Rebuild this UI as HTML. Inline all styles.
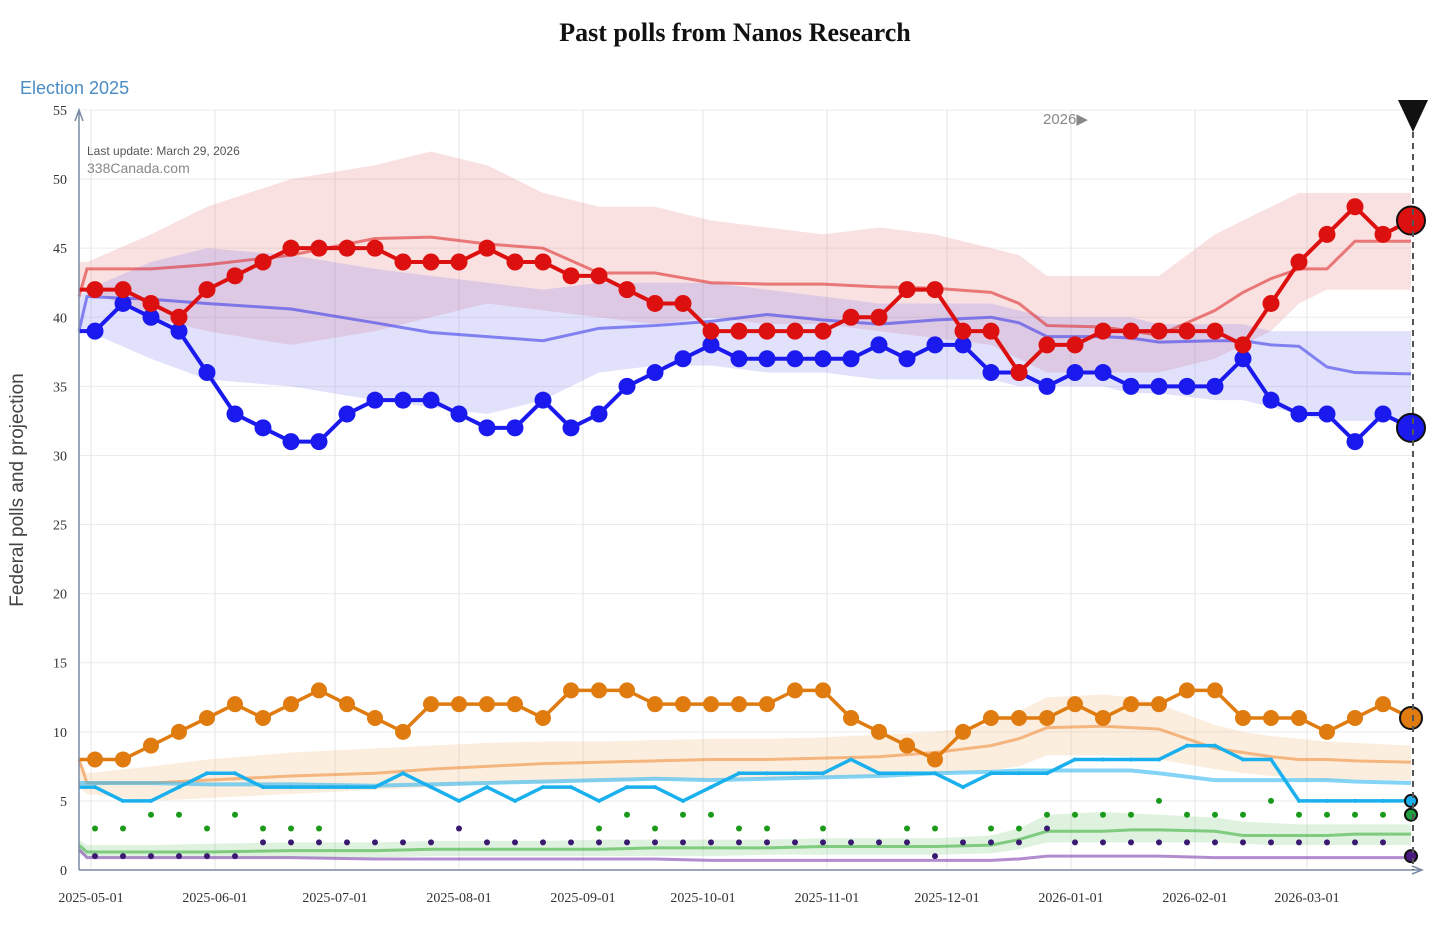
<!DOCTYPE html>
<html><head><meta charset="utf-8">
<style>
html,body{margin:0;padding:0;background:#fff;}
svg{display:block;font-family:"Liberation Sans",sans-serif;}
</style></head>
<body>
<svg id="chart" width="1456" height="926" viewBox="0 0 1456 926">
<text x="735" y="41" text-anchor="middle" font-family="Liberation Serif, serif" font-weight="bold" font-size="26" fill="#111">Past polls from Nanos Research</text>
<text x="20" y="94" font-size="18" fill="#4a8cc4">Election 2025</text>
<text transform="translate(23,490) rotate(-90)" text-anchor="middle" font-size="19" fill="#444">Federal polls and projection</text>
<g id="grid"></g>
<g id="bands"></g>
<g id="projs"></g>
<g id="dots"></g>
<g id="series"></g>
<g id="axes"></g>
<text x="87" y="155" font-size="12" fill="#555">Last update: March 29, 2026</text>
<text x="87" y="173" font-size="14" fill="#888">338Canada.com</text>
<text x="1043" y="124" font-size="15" fill="#888">2026▶</text>
</svg>
<script>
const NS="http://www.w3.org/2000/svg";
const tickLabels=["2025-05-01","2025-06-01","2025-07-01","2025-08-01","2025-09-01","2025-10-01","2025-11-01","2025-12-01","2026-01-01","2026-02-01","2026-03-01"];
const tickDays=[0,31,61,92,123,153,184,214,245,276,304];
const yTicks=[0,5,10,15,20,25,30,35,40,45,50,55];
const pollStart=1, pollStep=7;
const red=[42,42,41,40,42,43,44,45,45,45,45,44,44,44,45,44,44,43,43,42,41,41,39,39,39,39,39,40,40,42,42,39,39,36,38,38,39,39,39,39,39,38,41,44,46,48,46];
const blue=[39,41,40,39,36,33,32,31,31,33,34,34,34,33,32,32,34,32,33,35,36,37,38,37,37,37,37,37,38,37,38,38,36,36,35,36,36,35,35,35,35,37,34,33,33,31,33];
const orange=[8,8,9,10,11,12,11,12,13,12,11,10,12,12,12,12,11,13,13,13,12,12,12,12,12,13,13,11,10,9,8,10,11,11,11,12,11,12,12,13,13,11,11,11,10,11,12];
const cyan=[6,5,5,6,7,7,6,6,6,6,6,7,6,5,6,5,6,6,5,6,6,5,6,7,7,7,7,8,7,7,7,6,7,7,7,8,8,8,8,9,9,8,8,5,5,5,5];
const green=[3,3,4,4,3,4,3,3,3,null,null,null,null,null,null,null,null,null,3,4,3,4,4,3,3,null,3,null,null,3,3,null,3,3,4,4,4,4,5,4,4,4,5,4,4,4,4];
const purple=[1,1,1,1,1,1,2,2,2,2,2,2,2,3,2,2,2,2,2,2,2,2,2,2,2,2,2,2,2,2,1,2,2,2,3,2,2,2,2,2,2,2,2,2,2,2,2];
const startDay=-3, endDay=330;
const redStart=42, blueStart=39, orangeStart=8, cyanStart=6;
const finalRed=47, finalBlue=32, finalOrange=11, finalCyan=5, finalGreen=4, finalPurple=1;
const projDays=[-3,-1,15,29,50,71,85,99,113,127,141,155,169,183,197,211,225,232,239,253,260,267,281,288,295,302,309,316,330];
const redProj=[41.5,43.5,43.5,43.8,44.5,45.7,45.8,45.3,45,43.2,43.2,42.5,42.4,42.4,42.2,42.1,41.8,41,39.4,39.3,39.0,38.7,40.5,41.8,42.8,43.5,43.5,45.5,45.5];
const redHi=[44,44,46,48,50,51,52,51,49,48,48,47,46.5,46,46.5,46,45,44.5,43,43,43,43,46,47,48,49,49,49,49];
const redLo=[42,42,40,39,38,39,40,41,40.5,40,39.5,40,39.5,39.5,39,38.5,38,37,36,36,36,36,37,38,39,41,42,42,42];
const blueProj=[39,41.5,41.3,41,40.6,39.6,38.9,38.6,38.3,39.2,39.4,39.7,40.2,39.8,39.5,39.8,40,39.6,38.6,38.6,38.5,38.2,38.3,38.3,38,37.9,36.4,36,35.9];
const blueHi=[41.5,42,44,45,44.5,43.5,43,42.5,42,42.5,42.5,42.5,42,41.5,41,41,41,40.5,40,40,40,39.5,39.5,39.5,39,39,39,39,39];
const blueLo=[39,39,37,35.5,35,34,33.5,33,34,36,36.5,36.5,36,36,35.5,35.5,35.5,35,35,35,34.5,34.5,34,34,33.5,33,32.5,32.5,32.5];
const orangeProj=[8,6.3,6.3,6.5,6.8,7,7.3,7.5,7.7,7.8,7.9,8,8,8.1,8.2,8.5,9,9.5,10.3,10.4,10.3,10.2,8.8,8.5,8.2,8,8,7.9,7.8];
const orangeHi=[8,7,7.5,8,8.5,8.8,9,9.2,9.3,9.3,9.4,9.5,9.5,9.6,9.8,10,10.5,11.5,12.5,12.7,12.5,12,10.5,10,9.7,9.5,9.3,9.2,9];
const orangeLo=[6,5.5,5,5.2,5.5,5.8,6,6.2,6.3,6.4,6.5,6.5,6.6,6.7,6.8,7,7.2,7.5,8.3,8.3,8.2,8,7.3,7,6.8,6.6,6.5,6.5,6.5];
const cyanProj=[6.3,6.3,6.3,6.2,6.2,6.1,6.2,6.3,6.4,6.5,6.6,6.5,6.6,6.7,6.8,7,7.1,7.2,7.2,7.2,7.2,7,6.5,6.5,6.5,6.5,6.5,6.4,6.3];
const greenProj=[1.8,1.3,1.3,1.3,1.4,1.4,1.5,1.5,1.5,1.5,1.6,1.6,1.6,1.7,1.7,1.7,1.8,2.2,2.8,2.8,2.9,2.9,2.8,2.5,2.5,2.5,2.5,2.6,2.6];
const greenHi=[2.2,1.8,1.8,1.9,2,2,2.1,2.1,2.1,2.2,2.2,2.2,2.2,2.3,2.3,2.3,2.5,3,4,4.2,4.1,4,3.8,3.5,3.4,3.3,3.3,3.3,3.3];
const greenLo=[1.2,0.9,0.9,0.9,0.9,0.9,1,1,1,1,1,1,1.1,1.1,1.1,1.1,1.2,1.5,2,2,2,2,2,1.9,1.8,1.8,1.8,1.8,1.8];
const purpleProj=[1.5,0.9,0.9,0.9,0.9,0.8,0.8,0.8,0.8,0.8,0.8,0.7,0.7,0.7,0.7,0.7,0.7,0.8,1.0,1.0,1.0,1.0,0.9,0.9,0.9,0.9,0.9,0.9,0.9];

const X=d=>91+d*4.0;
const Y=v=>870-v*(760/55);
function mk(tag,attrs,parent){const e=document.createElementNS(NS,tag);for(const k in attrs)e.setAttribute(k,attrs[k]);parent.appendChild(e);return e;}
const grid=document.getElementById('grid'),axes=document.getElementById('axes'),bands=document.getElementById('bands'),projs=document.getElementById('projs'),dots=document.getElementById('dots'),series=document.getElementById('series');
yTicks.forEach(v=>{
  const l=mk('line',{x1:79,x2:1413,y1:Y(v),y2:Y(v),stroke:'#ebebeb','stroke-width':1},grid);
  
  
  const t=mk('text',{x:67,y:Y(v)+5,'text-anchor':'end','font-size':14,fill:'#333','font-family':'Liberation Serif, serif'},axes);
  t.textContent=v;
  
  
});
tickDays.forEach((d,i)=>{
  const l=mk('line',{x1:X(d),x2:X(d),y1:110,y2:870,stroke:'#e6e6e6','stroke-width':1},grid);
  
  
  const t=mk('text',{x:X(d),y:902,'text-anchor':'middle','font-size':14,fill:'#333','font-family':'Liberation Serif, serif'},axes);
  t.textContent=tickLabels[i];
  
  
});
let a=mk('path',{d:'M79,870 V112 M75,121 L79,110 L83,121',stroke:'#7a8aa5','stroke-width':1.5,fill:'none'},axes);


a=mk('path',{d:'M79,870 H1420 M1412,866 L1422,870 L1412,874',stroke:'#7a8aa5','stroke-width':1.5,fill:'none'},axes);


a=mk('line',{x1:1413,x2:1413,y1:132,y2:870,stroke:'#555','stroke-width':2,'stroke-dasharray':'6,5'},axes);


a=mk('path',{d:'M1398,100 L1428,100 L1413,132 Z',fill:'#111'},axes);



function band(hi,lo,color,name){
  let d='M'+projDays.map((x,i)=>X(x)+','+Y(hi[i])).join(' L');
  for(let i=projDays.length-1;i>=0;i--)d+=' L'+X(projDays[i])+','+Y(lo[i]);
  const p=mk('path',{d:d+'Z',fill:color,opacity:0.2},bands);
  
  
}
band(redHi,redLo,'#e86a6a','band-liberal');
band(blueHi,blueLo,'#6a6af0','band-conservative');
band(orangeHi,orangeLo,'#f0a860','band-ndp');
band(greenHi,greenLo,'#60c060','band-green');
function pline(vals,color,name,w){
  const p=mk('polyline',{points:projDays.map((x,i)=>X(x)+','+Y(vals[i])).join(' '),fill:'none',stroke:color,'stroke-width':w||3,opacity:0.6},projs);
  
  
}
pline(redProj,'#e03030','projection-liberal');
pline(blueProj,'#4040e8','projection-conservative');
pline(orangeProj,'#f09040','projection-ndp');
pline(cyanProj,'#30b8f0','projection-bloc',4);
pline(greenProj,'#40b040','projection-green');
pline(purpleProj,'#8040b0','projection-ppc');

function dotset(vals,color,name){
  vals.forEach((v,i)=>{ if(v===null)return;
    const c=mk('circle',{cx:X(pollStart+i*pollStep),cy:Y(v),r:3,fill:color},dots);
    
    
  });
}
dotset(green,'#1a9a1a','poll-dot-green');
dotset(purple,'#3a1a70','poll-dot-ppc');

function ser(vals,start,fin,color,name,r,w){
  const pts=[[X(startDay),Y(start)]].concat(vals.map((v,i)=>[X(pollStart+i*pollStep),Y(v)]));
  pts.push([X(endDay),Y(fin)]);
  const p=mk('polyline',{points:pts.map(q=>q.join(',')).join(' '),fill:'none',stroke:color,'stroke-width':w,'stroke-linejoin':'round'},series);
  
  
  if(r>0) vals.forEach((v,i)=>{
    const c=mk('circle',{cx:X(pollStart+i*pollStep),cy:Y(v),r:r,fill:color},series);
    
    
  });
}
ser(orange,orangeStart,finalOrange,'#e07b10','ndp',8,3.5);
ser(cyan,cyanStart,finalCyan,'#1ab0ee','bloc',2,3.5);
ser(blue,blueStart,finalBlue,'#1a1aee','conservative',8.5,4);
ser(red,redStart,finalRed,'#dd1010','liberal',8.5,4);

function fin(v,color,r,name){
  const c=mk('circle',{cx:X(endDay),cy:Y(v),r:r,fill:color,stroke:'#111','stroke-width':2},series);
  
  
}
fin(finalRed,'#dd1010',14,'final-liberal');
fin(finalBlue,'#1a1aee',14,'final-conservative');
fin(finalOrange,'#e07b10',11,'final-ndp');
fin(finalCyan,'#1ab0ee',6,'final-bloc');
fin(finalGreen,'#20a040',6,'final-green');
fin(finalPurple,'#4a1a80',6,'final-ppc');
</script>
</body></html>
